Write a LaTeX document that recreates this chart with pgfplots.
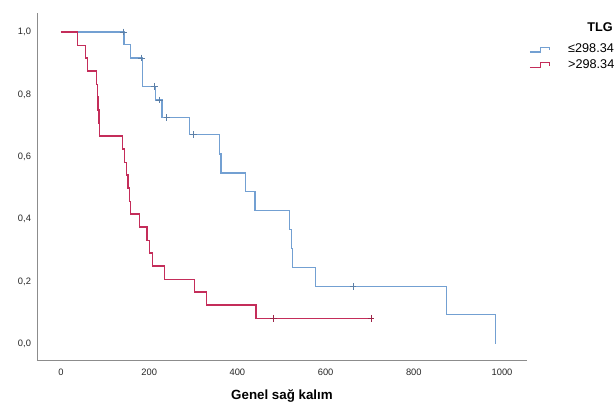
\documentclass[border=0pt]{standalone}
\usepackage{pgfplots}
\pgfplotsset{compat=1.18}
\usepackage{pgfplotstable}
\usepackage{fontspec}
\setmainfont{Liberation Sans}

\definecolor{kmblue}{RGB}{115,160,210}
\definecolor{kmred}{RGB}{196,45,90}

% survival steps, TLG <= 298.34
\pgfplotstableread{
t s
0 1
143 0.960
157 0.917
185 0.826
214 0.782
229 0.726
292 0.671
360 0.609
363 0.548
418 0.488
440 0.428
519 0.367
522 0.306
525 0.246
577 0.185
875 0.094
985 0.000
}\lowtlg

% survival steps, TLG > 298.34
\pgfplotstableread{
t s
0 1
37 0.958
55 0.917
60 0.875
80 0.833
82 0.792
84 0.750
86 0.708
88 0.667
140 0.625
144 0.583
148 0.542
152 0.500
156 0.458
158 0.417
178 0.375
195 0.333
200 0.292
208 0.250
235 0.208
302 0.167
330 0.125
442 0.083
703 0.083
}\hightlg

% censored
\pgfplotstableread{
t s
141 1
182 0.917
212 0.826
223 0.782
240 0.726
301 0.671
662 0.185
}\lowcens

\pgfplotstableread{
t s
482 0.083
703 0.083
}\highcens

\begin{document}
\begin{tikzpicture}
\useasboundingbox (0,0) rectangle (462pt,302.25pt);
\clip (0,0) rectangle (462pt,302.25pt);
\begin{axis}[
  at={(27.75pt,32.25pt)}, anchor=south west,
  scale only axis, width=367.5pt, height=260.25pt,
  xmin=-54.4, xmax=1056.7, ymin=-0.051, ymax=1.061,
  axis x line*=bottom, axis y line*=left,
  axis line style={draw=black!45, line width=0.6pt, -},
  major tick length=0pt,
  xtick={0,200,400,600,800,1000},
  xticklabels={0,200,400,600,800,1000},
  ytick={0,0.2,0.4,0.6,0.8,1},
  yticklabels={{0,0},{0,2},{0,4},{0,6},{0,8},{1,0}},
  tick label style={font=\fontsize{7}{8.5}\selectfont, text=black!85},
  xticklabel style={yshift=-3pt},
  yticklabel style={xshift=-1pt},
  xlabel={Genel sağ kalım},
  x label style={at={(axis description cs:0.5,0)}, anchor=center,
    yshift=-27pt, font=\bfseries\fontsize{10}{12}\selectfont},
  legend cell align=left,
  legend style={at={(axis description cs:1.004,0.918)}, anchor=north west,
    draw=none, fill=none, inner sep=0pt, column sep=11.5pt,
    nodes={inner sep=1.8pt},
    font=\fontsize{9.5}{11}\selectfont},
  legend image code/.code={
    \draw[#1] (0pt,-1.8pt) -- (8pt,-1.8pt) -- (8pt,1.8pt) -- (15pt,1.8pt) -- (15pt,-0.4pt);},
]
\addplot[kmblue, line width=0.9pt, const plot, mark=none] table[x=t, y=s] {\lowtlg};
\addlegendentry{≤298.34}
\addplot[kmred, line width=0.9pt, const plot, mark=none] table[x=t, y=s] {\hightlg};
\addlegendentry{>298.34}
\addplot[forget plot, only marks, mark=+, mark size=2.5pt, kmblue!80!black, line width=0.6pt]
  table[x=t, y=s] {\lowcens};
\addplot[forget plot, only marks, mark=+, mark size=2.5pt, kmred!80!black, line width=0.6pt]
  table[x=t, y=s] {\highcens};
\end{axis}
\node[font=\bfseries\fontsize{9.5}{11}\selectfont] at (450pt,282pt) {TLG};
\end{tikzpicture}
\end{document}
